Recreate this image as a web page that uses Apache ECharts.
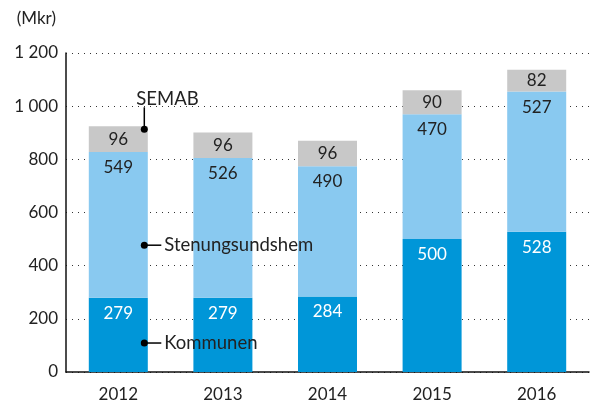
<!DOCTYPE html>
<html>
<head>
<meta charset="utf-8">
<script src="https://cdn.jsdelivr.net/npm/echarts@6/dist/echarts.min.js"></script>
<style>
  html, body { margin: 0; padding: 0; background: #fff; }
  #chart { width: 592px; height: 405px; }
</style>
</head>
<body>
<div id="chart"></div>
<script>
// data
const years = ['2012', '2013', '2014', '2015', '2016']
const kommunen = [279, 279, 284, 500, 528]
const stenungsundshem = [549, 526, 490, 470, 527]
const semab = [96, 96, 96, 90, 82]
// callout anchors (value on y axis, in 2012 bar)
const callouts = [
  { name: 'SEMAB', value: 913, textAbove: true },
  { name: 'Stenungsundshem', value: 477 },
  { name: 'Kommunen', value: 109 }
]

const font = 'Lato, "Noto Sans", sans-serif'
const chart = echarts.init(document.getElementById('chart'))

const barLabel = (color, pos, dist) => ({
  show: true,
  position: pos,
  distance: dist,
  color: color,
  fontSize: 17,
  fontFamily: font
})

chart.setOption({
  animation: false,
  grid: { left: 66, right: 3, top: 53, bottom: 33 },
  xAxis: {
    type: 'category',
    data: years,
    axisLine: { lineStyle: { color: '#111', width: 1.5 } },
    axisTick: { show: false },
    axisLabel: { color: '#222', fontSize: 17, fontFamily: font, margin: 14 }
  },
  yAxis: {
    type: 'value',
    min: 0,
    max: 1200,
    interval: 200,
    name: '(Mkr)',
    nameLocation: 'end',
    nameGap: 26,
    nameTextStyle: { color: '#222', fontSize: 17, fontFamily: font, align: 'right', padding: [0, 10, 0, 0] },
    axisLine: { show: true, lineStyle: { color: '#111', width: 1.5 } },
    axisTick: { show: false },
    axisLabel: {
      color: '#222', fontSize: 17, fontFamily: font, margin: 8,
      formatter: v => String(v).replace(/\B(?=(\d{3})+(?!\d))/g, ' ')
    },
    splitLine: { lineStyle: { color: '#333', type: [1, 5], width: 1 } }
  },
  series: [
    {
      name: 'Kommunen', type: 'bar', stack: 'a', data: kommunen,
      barWidth: 59,
      itemStyle: { color: '#0096d8' },
      label: barLabel('#fff', 'insideTop', 7)
    },
    {
      name: 'Stenungsundshem', type: 'bar', stack: 'a', data: stenungsundshem,
      itemStyle: { color: '#89c9f0' },
      label: barLabel('#222', 'insideTop', 7)
    },
    {
      name: 'SEMAB', type: 'bar', stack: 'a', data: semab,
      itemStyle: { color: '#c8c8c8' },
      label: barLabel('#222', 'inside', 0)
    }
  ]
})

// callouts with dot + leader line, placed via axis scales
const graphics = []
callouts.forEach(c => {
  const p = chart.convertToPixel({ xAxisIndex: 0, yAxisIndex: 0 }, [years[0], c.value])
  const x = p[0] + 26
  const y = p[1]
  graphics.push({ type: 'circle', shape: { cx: x, cy: y, r: 3.5 }, style: { fill: '#000' }, z: 10 })
  if (c.textAbove) {
    graphics.push({ type: 'line', shape: { x1: x, y1: y, x2: x, y2: y - 22 }, style: { stroke: '#000', lineWidth: 1.5 }, z: 10 })
    graphics.push({
      type: 'text', x: x - 8, y: y - 21, z: 10,
      style: { text: c.name, fill: '#222', fontSize: 18.5, fontFamily: font, verticalAlign: 'bottom' }
    })
  } else {
    graphics.push({ type: 'line', shape: { x1: x, y1: y, x2: x + 17, y2: y }, style: { stroke: '#000', lineWidth: 1.5 }, z: 10 })
    graphics.push({
      type: 'text', x: x + 20, y: y, z: 10,
      style: { text: c.name, fill: '#222', fontSize: 18.5, fontFamily: font, verticalAlign: 'middle' }
    })
  }
})
chart.setOption({ graphic: graphics })
</script>
</body>
</html>
